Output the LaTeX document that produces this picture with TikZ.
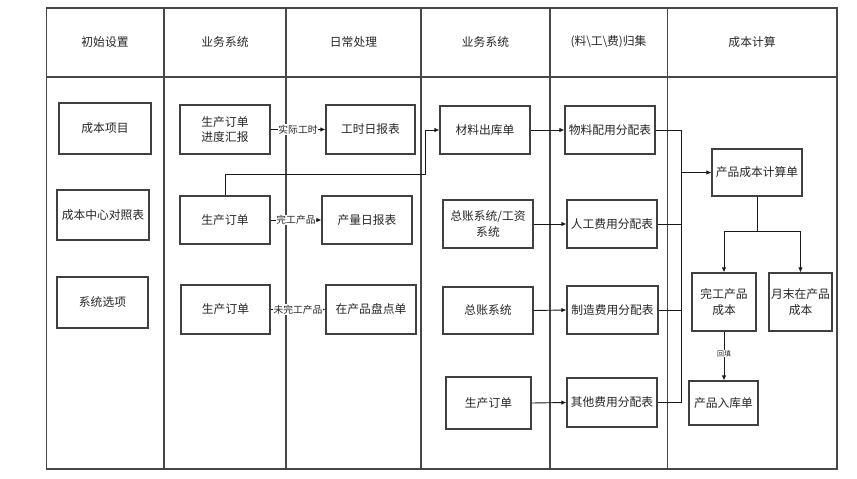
\documentclass[tikz,border=0pt]{standalone}
\usepackage{fontspec}
\setmainfont{Noto Sans CJK SC}
\usetikzlibrary{arrows.meta}
\begin{document}
\begin{tikzpicture}[x=1bp,y=-1bp,
  frame/.style={line width=1.1bp,draw=black!72},
  box/.style={draw=black!75,line width=1.2bp,fill=white,rectangle,align=center,
    font=\fontsize{11.8}{15.5}\selectfont,text=black!85,inner sep=1pt},
  head/.style={font=\fontsize{11.8}{13}\selectfont,text=black!85},
  con/.style={line width=0.9bp,draw=black!90},
  arr/.style={con,-{Latex[length=5bp,width=4.5bp]}},
  lbl/.style={fill=white,inner sep=0.6bp,font=\fontsize{9.8}{11}\selectfont,text=black!85},
  slbl/.style={fill=white,inner sep=0.6bp,font=\fontsize{7}{8}\selectfont,text=black!85}]
\useasboundingbox (0,0) rectangle (857,479);
% table
\draw[frame] (46.5,8) rectangle (837,469);
\draw[frame] (46.5,77) -- (837,77);
\foreach \xx in {164,286,421,550,667.5} \draw[frame] (\xx,8) -- (\xx,469);
% headers
\node[head] (h1) at (105,42) {初始设置};
\node[head] (h2) at (225,42) {业务系统};
\node[head] (h3) at (353.5,42) {日常处理};
\node[head] (h4) at (485.5,42) {业务系统};
\node[head] (h5) at (608.5,42) {(料\textbackslash 工\textbackslash 费)归集};
\node[head] (h6) at (752,42) {成本计算};
% column 1
\node[box,minimum width=92bp,minimum height=51bp] (b11) at (105,128.5) {成本项目};
\node[box,minimum width=92bp,minimum height=50bp] (b12) at (103,215) {成本中心对照表};
\node[box,minimum width=91bp,minimum height=51bp] (b13) at (102.5,302.5) {系统选项};
% column 2
\node[box,minimum width=90bp,minimum height=49bp] (b21) at (225,129.5) {生产订单\\进度汇报};
\node[box,minimum width=90bp,minimum height=48bp] (b22) at (225,220) {生产订单};
\node[box,minimum width=89bp,minimum height=49bp] (b23) at (225.5,309.5) {生产订单};
% column 3
\node[box,minimum width=89bp,minimum height=49bp] (b31) at (370.5,129.5) {工时日报表};
\node[box,minimum width=90bp,minimum height=48bp] (b32) at (367,220) {产量日报表};
\node[box,minimum width=90bp,minimum height=49bp] (b33) at (371,309.5) {在产品盘点单};
% column 4
\node[box,minimum width=90bp,minimum height=48bp] (b41) at (485,130) {材料出库单};
\node[box,minimum width=90bp,minimum height=48bp] (b42) at (488,224) {总账系统/工资\\系统};
\node[box,minimum width=90bp,minimum height=47bp] (b43) at (488,310.5) {总账系统};
\node[box,minimum width=85bp,minimum height=52bp] (b44) at (488.5,403) {生产订单};
% column 5
\node[box,minimum width=90bp,minimum height=48bp] (b51) at (610,130) {物料配用分配表};
\node[box,minimum width=90bp,minimum height=48bp] (b52) at (612,224) {人工费用分配表};
\node[box,minimum width=91bp,minimum height=48bp] (b53) at (612.5,310) {制造费用分配表};
\node[box,minimum width=90bp,minimum height=49bp] (b54) at (612,402.5) {其他费用分配表};
% column 6
\node[box,minimum width=90bp,minimum height=47bp] (b61) at (757,172.5) {产品成本计算单};
\node[box,minimum width=64bp,minimum height=58bp] (b62) at (724,302) {完工产品\\成本};
\node[box,minimum width=63bp,minimum height=58bp] (b63) at (800.5,302) {月末在产品\\成本};
\node[box,minimum width=69bp,minimum height=44bp] (b64) at (723.5,403) {产品入库单};
% connectors col2 -> col3
\draw[arr] (b21.east) -- node[lbl] {实际工时} (b31.west);
\draw[arr] (b22.east) -- node[lbl] {完工产品} (b32.west);
\draw[arr] (b23.east) -- node[lbl] {未完工产品} (b33.west);
% production order -> material issue
\coordinate (j1) at (425,174);
\draw[arr] (b22.north) |- (j1) |- (b41.west);
% col4 -> col5
\draw[arr] (b41.east) -- (b51.west);
\draw[arr] (b42.east) -- (b52.west);
\draw[arr] (b43.east) -- (b53.west);
\draw[arr] (b44.east) -- (b54.west);
% bus
\coordinate (busx) at (681,0);
\draw[con] (b51.east) -- (b51.east -| busx);
\draw[con] (b52.east) -- (b52.east -| busx);
\draw[con] (b53.east) -- (b53.east -| busx);
\draw[con] (b54.east) -- (b54.east -| busx);
\draw[con] (b51.east -| busx) -- (b54.east -| busx);
\draw[arr] (b61.west -| busx) -- (b61.west);
% tree
\coordinate (split) at (757,231);
\draw[con] (b61.south) -- (split);
\draw[arr] (split) -| (b62.north);
\draw[arr] (split) -| (b63.north);
\draw[arr] (b62.south) -- node[slbl,pos=0.45] {回填} (b62.south |- b64.north);
\end{tikzpicture}
\end{document}
